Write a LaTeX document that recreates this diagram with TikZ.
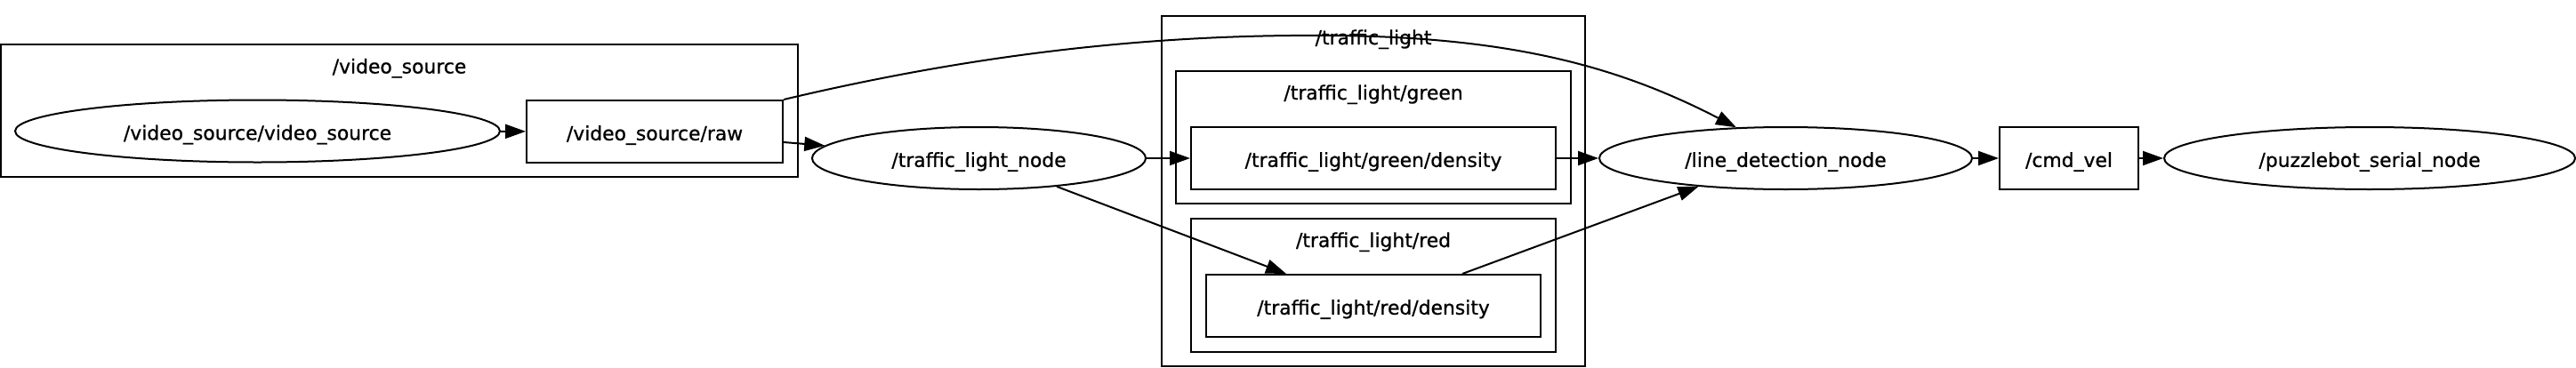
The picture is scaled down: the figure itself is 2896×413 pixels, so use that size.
\documentclass[tikz,border=0pt]{standalone}
\usepackage{fontspec}
\setmainfont{DejaVu Sans}[BoldFont={DejaVu Sans},BoldFeatures={FakeBold=0.8}]
\usetikzlibrary{shapes.geometric,arrows.meta}
\tikzset{
  base/.style={draw=black, line width=2pt, inner sep=0pt, text height=19.6pt, text depth=0pt, font=\fontsize{21.85}{26}\selectfont\bfseries},
  topicbox/.style={base, rectangle, minimum height=70},
  rosnode/.style={base, ellipse, minimum height=70},
  cluster/.style={draw=black, line width=2pt, rectangle, inner sep=0pt},
  ctitle/.style={anchor=base, inner sep=0pt, font=\fontsize{21.85}{26}\selectfont\bfseries},
  edge/.style={draw=black, line width=2pt, -{Triangle[length=23pt,width=16pt]}}
}
\begin{document}
\begin{tikzpicture}[x=1pt,y=-1pt]
\useasboundingbox (0,0) rectangle (2896,413);
% clusters
\node[cluster, minimum width=896, minimum height=149] (vsc) at (449,124.5) {};
\node[ctitle] (vsct) at (449,82.5) {/video\_source};
\node[cluster, minimum width=476, minimum height=394] (tlc) at (1544,215) {};
\node[ctitle] (tlct) at (1544,50) {/traffic\_light};
\node[cluster, minimum width=444, minimum height=149] (gc) at (1544,154.5) {};
\node[ctitle] (gct) at (1544,112) {/traffic\_light/green};
\node[cluster, minimum width=410, minimum height=150] (rc) at (1544,321) {};
\node[ctitle] (rct) at (1544,278) {/traffic\_light/red};
% nodes
\node[rosnode, minimum width=545] (vs) at (289.5,147.5) {/video\_source/video\_source};
\node[topicbox, minimum width=288] (raw) at (736,148) {/video\_source/raw};
\node[rosnode, minimum width=375] (tln) at (1100.5,178) {/traffic\_light\_node};
\node[topicbox, minimum width=410] (gd) at (1544,178) {/traffic\_light/green/density};
\node[topicbox, minimum width=376] (rd) at (1544,344) {/traffic\_light/red/density};
\node[rosnode, minimum width=419] (ldn) at (2007.5,178) {/line\_detection\_node};
\node[topicbox, minimum width=156] (cmd) at (2326,178) {/cmd\_vel};
\node[rosnode, minimum width=462] (psn) at (2664,178) {/puzzlebot\_serial\_node};
% edges
\draw[edge] (vs) -- (raw);
\draw[edge] ([yshift=-12pt]raw.east) -- (tln);
\draw[edge] (raw.north east) .. controls (1100,60) and (1300,38) .. (1500,40)
  .. controls (1700,42) and (1820,75) .. (ldn.148.5);
\draw[edge] (tln) -- (gd);
\draw[edge] (tln.-20) -- ([xshift=91pt]rd.north west);
\draw[edge] ([xshift=289pt]rd.north west) -- (ldn.198);
\draw[edge] (gd) -- (ldn);
\draw[edge] (ldn) -- (cmd);
\draw[edge] (cmd) -- (psn);
\end{tikzpicture}
\end{document}
